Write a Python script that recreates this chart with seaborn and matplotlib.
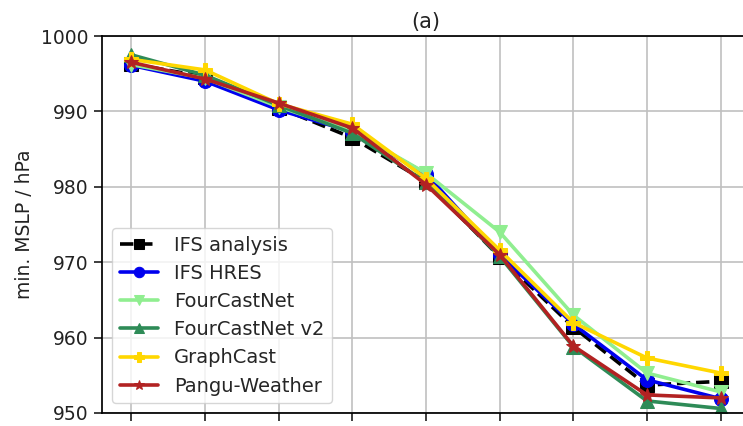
"""Minimum MSLP along the track: analysis vs. forecast models, panel (a)."""

import matplotlib

matplotlib.use("Agg")
import matplotlib.pyplot as plt
import pandas as pd
import seaborn as sns

STEPS = [0, 1, 2, 3, 4, 5, 6, 7, 8]

IFS_ANALYSIS = [996.3, 994.6, 990.5, 986.5, 980.7, 970.7, 961.4, 953.7, 954.2]
IFS_HRES = [996.1, 994.0, 990.2, 987.3, 981.7, 971.0, 961.8, 954.4, 951.9]
FOURCASTNET = [996.2, 994.4, 990.6, 987.4, 981.8, 974.0, 963.0, 955.3, 952.8]
FOURCASTNET_V2 = [997.5, 994.8, 990.8, 987.1, 980.6, 970.8, 958.8, 951.6, 950.6]
GRAPHCAST = [996.9, 995.5, 991.0, 988.3, 981.1, 971.6, 962.0, 957.3, 955.3]
PANGU = [996.5, 994.3, 991.1, 987.8, 980.3, 971.0, 958.9, 952.4, 952.0]

SERIES = {
    "IFS analysis": (IFS_ANALYSIS, "black", "s", "--"),
    "IFS HRES": (IFS_HRES, "#0000ee", "o", "-"),
    "FourCastNet": (FOURCASTNET, "#90ee90", "v", "-"),
    "FourCastNet v2": (FOURCASTNET_V2, "#2e8b57", "^", "-"),
    "GraphCast": (GRAPHCAST, "#ffd700", "P", "-"),
    "Pangu-Weather": (PANGU, "#b22222", "*", "-"),
}


def main() -> None:
    sns.set_theme(style="ticks")
    plt.rcParams["font.family"] = ["DejaVu Sans"]

    fig = plt.figure(figsize=(7.43, 4.26), dpi=100)
    ax = fig.add_axes([102 / 743, 13 / 426, 648 / 743, 377 / 426])

    for name, (values, color, marker, style) in SERIES.items():
        df = pd.DataFrame({"step": STEPS, "mslp": values})
        sns.lineplot(
            data=df,
            x="step",
            y="mslp",
            ax=ax,
            color=color,
            marker=marker,
            linestyle=style,
            linewidth=2.6,
            markersize=10,
            markeredgecolor=color,
            label=name,
        )

    ax.set_xlim(-0.4, 8.4)
    ax.set_ylim(950, 1000)
    ax.set_xticks(STEPS)
    ax.set_xticklabels([])
    ax.set_yticks([950, 960, 970, 980, 990, 1000])
    ax.tick_params(axis="y", labelsize=13.5, labelcolor="#222222")
    ax.grid(True, color="#c0c0c0", linewidth=1.2)
    ax.set_axisbelow(True)
    ax.set_xlabel("")
    ax.set_ylabel("min. MSLP / hPa", fontsize=13.5, labelpad=5, color="#222222")
    ax.set_title("(a)", fontsize=15, pad=6, color="#222222")
    for side in ["left", "top", "bottom"]:
        ax.spines[side].set_color("black")
    ax.spines["right"].set_visible(False)

    ax.legend(loc="lower left", fontsize=14, frameon=True, borderaxespad=0.5,
              handlelength=2.0, labelspacing=0.47, markerscale=0.75)

    fig.savefig("out.png", dpi=100)
    plt.close(fig)


if __name__ == "__main__":
    main()
